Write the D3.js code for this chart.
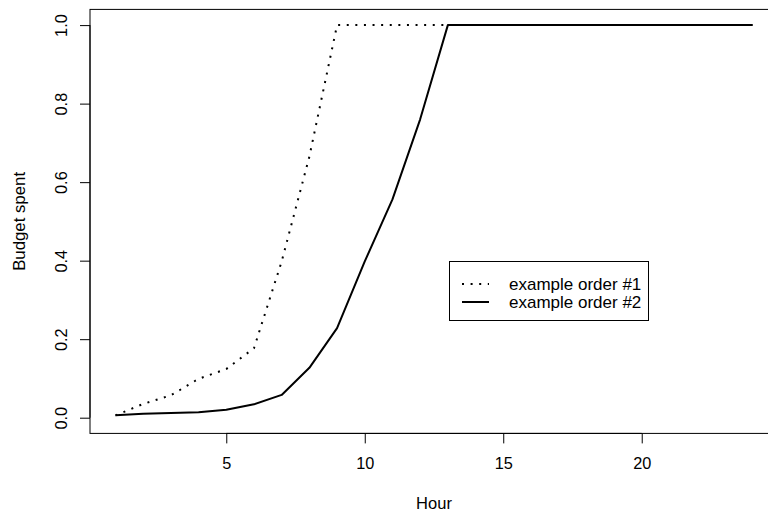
<!DOCTYPE html>
<html>
<head>
<meta charset="utf-8">
<script src="https://cdn.jsdelivr.net/npm/d3@7"></script>
<style>
  html, body { margin: 0; padding: 0; background: #fff; }
  svg { display: block; }
  text { font-family: "Liberation Sans", Arial, Helvetica, sans-serif; fill: #000; }
</style>
</head>
<body>
<svg id="chart" width="768" height="513"></svg>
<script>
// ---- data ----
const hours = d3.range(1, 25);
const order1 = [0.006, 0.035, 0.057, 0.099, 0.124, 0.177, 0.398, 0.665, 1, 1, 1, 1, 1, 1, 1, 1, 1, 1, 1, 1, 1, 1, 1, 1];
const order2 = [0.006, 0.010, 0.012, 0.014, 0.020, 0.034, 0.058, 0.127, 0.228, 0.398, 0.556, 0.760, 1, 1, 1, 1, 1, 1, 1, 1, 1, 1, 1, 1];
const xTicks = [5, 10, 15, 20];
const yTicks = [0, 0.2, 0.4, 0.6, 0.8, 1.0];
const seriesNames = ["example order #1", "example order #2"];
const xLabel = "Hour";
const yLabel = "Budget spent";

// ---- layout ----
const svg = d3.select("#chart");
const pL = 90, pR = 778, pT = 9.4, pB = 433.4;
const fs = 16.3;

const x = d3.scaleLinear().domain([0.08, 24.92]).range([pL, pR]);
const y = d3.scaleLinear().domain([-0.04, 1.04]).range([pB, pT]);

// box
svg.append("rect")
  .attr("x", pL).attr("y", pT)
  .attr("width", pR - pL).attr("height", pB - pT)
  .attr("fill", "none").attr("stroke", "#000").attr("stroke-width", 1);

// x axis
const xAxis = d3.axisBottom(x).tickValues(xTicks).tickSize(10).tickPadding(14).tickFormat(d3.format("d"));
const gx = svg.append("g").attr("transform", `translate(0,${pB})`).call(xAxis);
gx.select(".domain").attr("d", `M${x(xTicks[0])},0H${x(xTicks[xTicks.length-1])}`).attr("stroke", "#000");
gx.selectAll(".tick line").attr("stroke", "#000");
gx.selectAll("text").attr("font-size", fs).style("font-family", "Liberation Sans, Arial, sans-serif").attr("fill", "#000");

// y axis
const yAxis = d3.axisLeft(y).tickValues(yTicks).tickSize(10).tickFormat(d3.format(".1f"));
const gy = svg.append("g").attr("transform", `translate(${pL},0)`).call(yAxis);
gy.select(".domain").attr("d", `M0,${y(yTicks[0])}V${y(yTicks[yTicks.length-1])}`).attr("stroke", "#000");
gy.selectAll(".tick line").attr("stroke", "#000");
gy.selectAll(".tick text")
  .attr("font-size", fs).style("font-family", "Liberation Sans, Arial, sans-serif").attr("fill", "#000")
  .attr("x", null).attr("dy", null)
  .attr("text-anchor", "middle")
  .attr("transform", "translate(-23.5,0) rotate(-90)");

// axis titles
svg.append("text").attr("x", (pL + pR) / 2).attr("y", 509)
  .attr("text-anchor", "middle").attr("font-size", 16.5).text(xLabel);
svg.append("text")
  .attr("transform", `translate(24.5,${(pT + pB) / 2}) rotate(-90)`)
  .attr("text-anchor", "middle").attr("font-size", 16.8).text(yLabel);

// lines
const line = d3.line().x((d, i) => x(hours[i])).y(d => y(d));
svg.append("path").datum(order1).attr("d", line)
  .attr("fill", "none").attr("stroke", "#000").attr("stroke-width", 2)
  .attr("stroke-dasharray", "2,6.6");
svg.append("path").datum(order2).attr("d", line)
  .attr("fill", "none").attr("stroke", "#000").attr("stroke-width", 2)
  .attr("stroke-linejoin", "round");

// legend
const lg = svg.append("g");
lg.append("rect").attr("x", 449.5).attr("y", 261.5).attr("width", 199).attr("height", 59)
  .attr("fill", "#fff").attr("stroke", "#000").attr("stroke-width", 1);
const rowsY = [284, 302];
const dashes = ["2,6.6", null];
seriesNames.forEach((name, i) => {
  lg.append("line").attr("x1", 462).attr("x2", 489).attr("y1", rowsY[i]).attr("y2", rowsY[i])
    .attr("stroke", "#000").attr("stroke-width", 2)
    .attr("stroke-dasharray", dashes[i]);
  lg.append("text").attr("x", 509).attr("y", rowsY[i]).attr("dy", "0.35em")
    .attr("font-size", 17).text(name);
});
</script>
</body>
</html>
